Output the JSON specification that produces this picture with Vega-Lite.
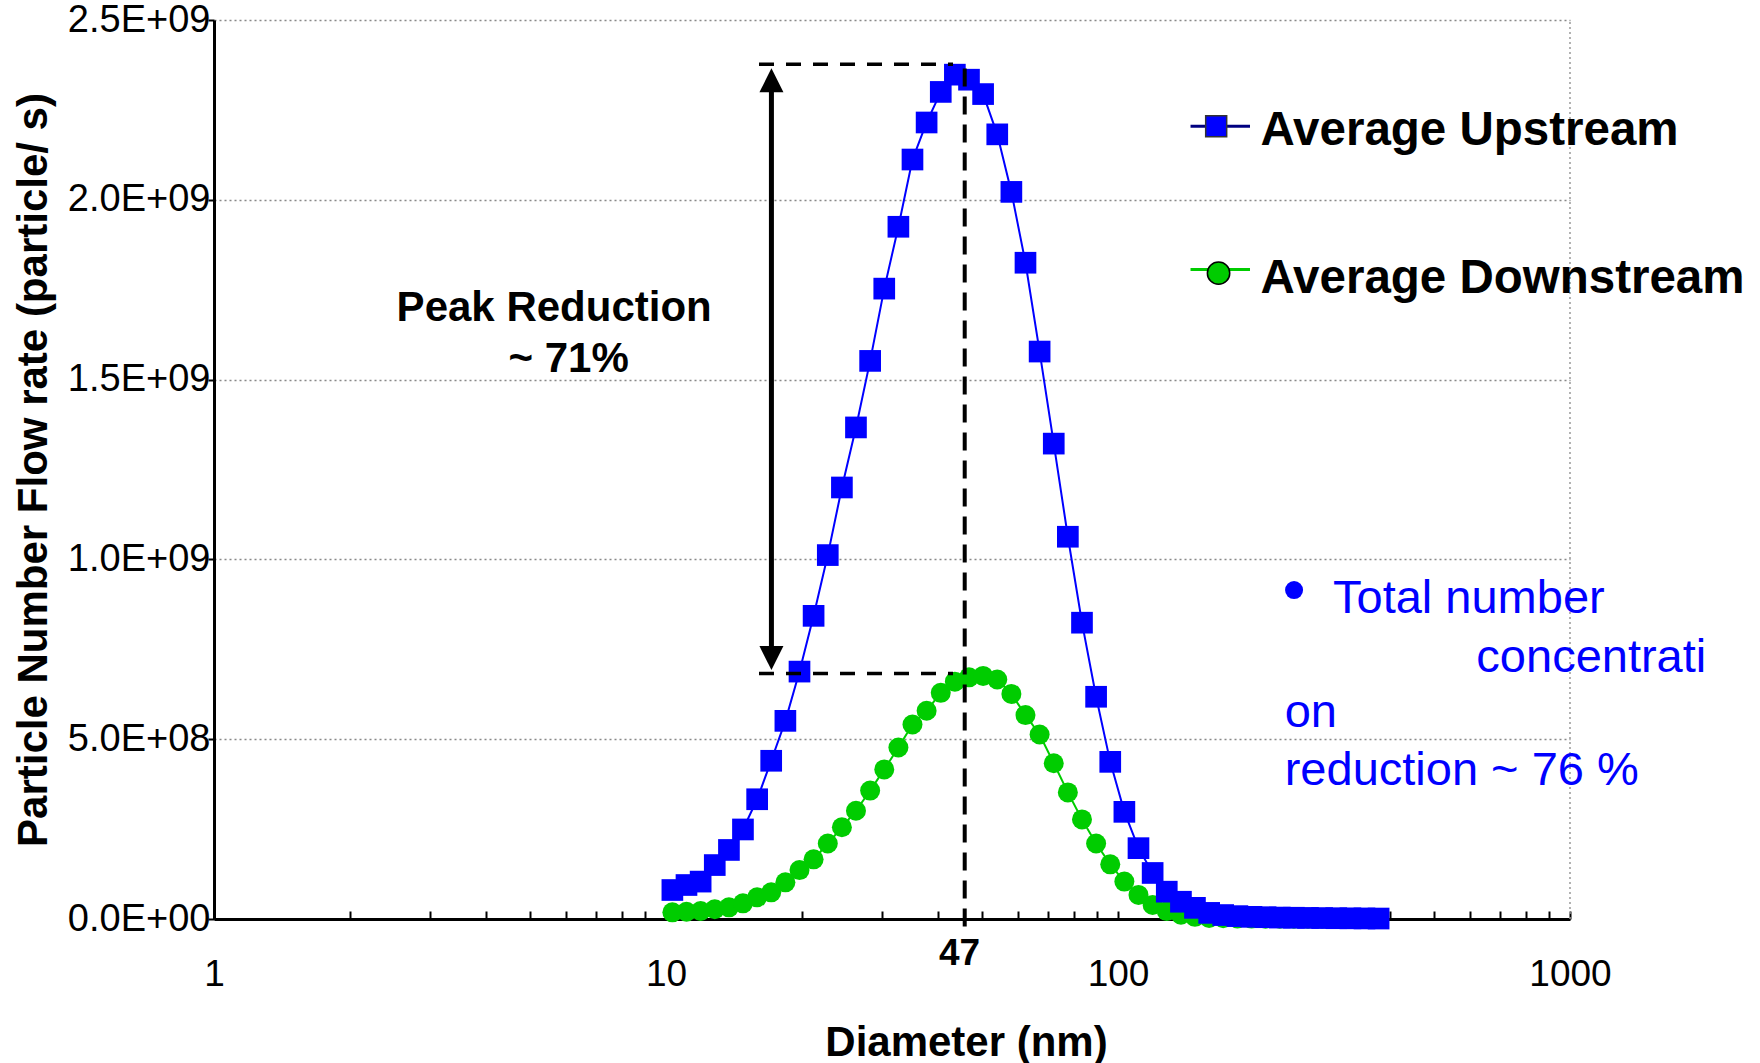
{
  "$schema": "https://vega.github.io/schema/vega-lite/v6.json",
  "width": 1356,
  "height": 899,
  "autosize": {"type": "none"},
  "padding": {"left": 214, "top": 20, "right": 190, "bottom": 144},
  "background": "white",
  "config": {"view": {"stroke": null}, "font": "Liberation Sans"},
  "datasets": {
    "psd": [
      {"d": 10.33, "up": 8.06e7, "down": 1.86e7},
      {"d": 11.10, "up": 9.45e7, "down": 2.03e7},
      {"d": 11.93, "up": 1.04e8, "down": 2.22e7},
      {"d": 12.82, "up": 1.50e8, "down": 2.70e7},
      {"d": 13.78, "up": 1.92e8, "down": 3.25e7},
      {"d": 14.80, "up": 2.49e8, "down": 4.36e7},
      {"d": 15.91, "up": 3.33e8, "down": 6.03e7},
      {"d": 17.09, "up": 4.40e8, "down": 7.42e7},
      {"d": 18.37, "up": 5.51e8, "down": 1.02e8},
      {"d": 19.74, "up": 6.88e8, "down": 1.36e8},
      {"d": 21.21, "up": 8.43e8, "down": 1.66e8},
      {"d": 22.80, "up": 1.012e9, "down": 2.10e8},
      {"d": 24.50, "up": 1.200e9, "down": 2.55e8},
      {"d": 26.32, "up": 1.367e9, "down": 3.01e8},
      {"d": 28.29, "up": 1.552e9, "down": 3.57e8},
      {"d": 30.40, "up": 1.753e9, "down": 4.16e8},
      {"d": 32.67, "up": 1.925e9, "down": 4.77e8},
      {"d": 35.10, "up": 2.112e9, "down": 5.41e8},
      {"d": 37.72, "up": 2.215e9, "down": 5.79e8},
      {"d": 40.54, "up": 2.300e9, "down": 6.29e8},
      {"d": 43.56, "up": 2.348e9, "down": 6.60e8},
      {"d": 46.81, "up": 2.334e9, "down": 6.72e8},
      {"d": 50.30, "up": 2.294e9, "down": 6.76e8},
      {"d": 54.06, "up": 2.182e9, "down": 6.66e8},
      {"d": 58.09, "up": 2.022e9, "down": 6.26e8},
      {"d": 62.42, "up": 1.825e9, "down": 5.67e8},
      {"d": 67.08, "up": 1.578e9, "down": 5.13e8},
      {"d": 72.09, "up": 1.322e9, "down": 4.33e8},
      {"d": 77.46, "up": 1.063e9, "down": 3.52e8},
      {"d": 83.24, "up": 8.24e8, "down": 2.77e8},
      {"d": 89.45, "up": 6.18e8, "down": 2.10e8},
      {"d": 96.13, "up": 4.37e8, "down": 1.52e8},
      {"d": 103.3, "up": 2.98e8, "down": 1.04e8},
      {"d": 111.0, "up": 1.97e8, "down": 6.7e7},
      {"d": 119.3, "up": 1.28e8, "down": 3.9e7},
      {"d": 128.2, "up": 7.6e7, "down": 2.2e7},
      {"d": 137.8, "up": 4.8e7, "down": 1.2e7},
      {"d": 148.0, "up": 3.1e7, "down": 6e6},
      {"d": 159.1, "up": 1.7e7, "down": 3e6},
      {"d": 170.9, "up": 1.1e7, "down": 2e6},
      {"d": 183.7, "up": 8.0e6, "down": 1.5e6},
      {"d": 197.4, "up": 6.0e6, "down": 1.2e6},
      {"d": 212.1, "up": 5.0e6, "down": 1.0e6},
      {"d": 228.0, "up": 4.0e6, "down": 9e5},
      {"d": 245.0, "up": 3.5e6, "down": 8e5},
      {"d": 263.2, "up": 3.0e6, "down": 7e5},
      {"d": 282.9, "up": 2.6e6, "down": 6e5},
      {"d": 304.0, "up": 2.2e6, "down": 5e5},
      {"d": 326.7, "up": 1.9e6, "down": 4e5},
      {"d": 351.0, "up": 1.6e6, "down": 3e5},
      {"d": 377.2, "up": 1.3e6, "down": 2e5}
    ]
  },
  "data": {"name": "psd"},
  "layer": [
    {
      "transform": [{"fold": ["down", "up"], "as": ["series", "value"]}],
      "mark": {"type": "line", "strokeWidth": 2},
      "encoding": {
        "x": {
          "field": "d", "type": "quantitative",
          "scale": {"type": "log", "domain": [1, 1000], "nice": false},
          "axis": {
            "title": "Diameter (nm)",
            "values": [1,2,3,4,5,6,7,8,9,10,20,30,40,50,60,70,80,90,100,200,300,400,500,600,700,800,900,1000],
            "labelExpr": "datum.value == 1 || datum.value == 10 || datum.value == 100 || datum.value == 1000 ? format(datum.value, 'd') : ''",
            "labelFont": "Liberation Sans", "labelFontSize": 37, "labelColor": "black",
            "labelPadding": 45, "labelOverlap": false, "labelFlush": false, "labelBound": false,
            "tickSize": -8, "tickWidth": 2, "tickColor": "black",
            "domainColor": "black", "domainWidth": 3,
            "grid": false,
            "titleFont": "Liberation Sans", "titleFontSize": 42, "titleFontWeight": "bold", "titleColor": "black",
            "titleX": 752, "titleY": 103
          }
        },
        "y": {
          "field": "value", "type": "quantitative",
          "scale": {"domain": [0, 2500000000], "nice": false},
          "axis": {
            "title": "Particle Number Flow rate (particle/ s)",
            "values": [0, 500000000, 1000000000, 1500000000, 2000000000, 2500000000],
            "labelExpr": "datum.value == 0 ? '0.0E+00' : datum.value == 500000000 ? '5.0E+08' : datum.value == 1000000000 ? '1.0E+09' : datum.value == 1500000000 ? '1.5E+09' : datum.value == 2000000000 ? '2.0E+09' : '2.5E+09'",
            "labelFont": "Liberation Sans", "labelFontSize": 38, "labelColor": "black",
            "labelPadding": -2, "tickSize": 6, "tickWidth": 2, "tickColor": "black",
            "domainColor": "black", "domainWidth": 3,
            "grid": true, "gridDash": [2, 3], "gridColor": "#888888", "gridWidth": 1.5,
            "titleFont": "Liberation Sans", "titleFontSize": 42, "titleFontWeight": "bold", "titleColor": "black",
            "titlePadding": 12
          }
        },
        "color": {
          "field": "series", "type": "nominal",
          "scale": {"domain": ["down", "up"], "range": ["#00CC00", "#0000FF"]},
          "legend": null
        }
      }
    },
    {
      "data": {"values": [{}]},
      "mark": {"type": "rule", "color": "#999999", "strokeDash": [2, 3], "strokeWidth": 1.5},
      "encoding": {"x": {"datum": 1000}, "y": {"datum": 0}, "y2": {"datum": 2500000000}}
    },
    {
      "mark": {"type": "point", "shape": "circle", "filled": true, "size": 400, "color": "#00CC00", "opacity": 1},
      "encoding": {"x": {"field": "d", "type": "quantitative"}, "y": {"field": "down", "type": "quantitative"}}
    },
    {
      "mark": {"type": "point", "shape": "square", "filled": true, "size": 470, "color": "#0000FF", "opacity": 1},
      "encoding": {"x": {"field": "d", "type": "quantitative"}, "y": {"field": "up", "type": "quantitative"}}
    },
    {
      "data": {"values": [{}]},
      "mark": {"type": "rule", "color": "black", "strokeDash": [15, 12], "strokeWidth": 3.5},
      "encoding": {"x": {"datum": 16.06}, "x2": {"datum": 43.15}, "y": {"datum": 2377000000}}
    },
    {
      "data": {"values": [{}]},
      "mark": {"type": "rule", "color": "black", "strokeDash": [15, 12], "strokeWidth": 3.5},
      "encoding": {"x": {"datum": 16.06}, "x2": {"datum": 43.15}, "y": {"datum": 683000000}}
    },
    {
      "data": {"values": [{}]},
      "mark": {"type": "rule", "color": "black", "strokeDash": [18, 10], "strokeWidth": 4},
      "encoding": {"x": {"datum": 45.8}, "y": {"datum": -21000000}, "y2": {"datum": 2371000000}}
    },
    {
      "data": {"values": [{}]},
      "mark": {"type": "rule", "color": "black", "strokeWidth": 5},
      "encoding": {"x": {"datum": 17.11}, "y": {"datum": 740000000}, "y2": {"datum": 2320000000}}
    },
    {
      "data": {"values": [{}]},
      "mark": {"type": "point", "shape": "M0,-1L-1,1L1,1Z", "filled": true, "size": 576, "color": "black", "opacity": 1},
      "encoding": {"x": {"datum": 17.11}, "y": {"datum": 2332400000}}
    },
    {
      "data": {"values": [{}]},
      "mark": {"type": "point", "shape": "M0,1L-1,-1L1,-1Z", "filled": true, "size": 576, "color": "black", "opacity": 1},
      "encoding": {"x": {"datum": 17.11}, "y": {"datum": 725600000}}
    },
    {
      "data": {"values": [{}]},
      "mark": {"type": "text", "text": "Peak Reduction", "font": "Liberation Sans", "fontSize": 42, "fontWeight": "bold", "color": "black", "align": "center", "baseline": "middle"},
      "encoding": {"x": {"datum": 5.657}, "y": {"datum": 1700000000}}
    },
    {
      "data": {"values": [{}]},
      "mark": {"type": "text", "text": "~ 71%", "font": "Liberation Sans", "fontSize": 42, "fontWeight": "bold", "color": "black", "align": "center", "baseline": "middle"},
      "encoding": {"x": {"datum": 6.09}, "y": {"datum": 1556000000}}
    },
    {
      "data": {"values": [{}]},
      "mark": {"type": "text", "text": "47", "font": "Liberation Sans", "fontSize": 37, "fontWeight": "bold", "color": "black", "align": "center", "baseline": "middle"},
      "encoding": {"x": {"datum": 44.6}, "y": {"datum": -97300000}}
    },
    {
      "data": {"values": [{}]},
      "mark": {"type": "point", "shape": "circle", "filled": true, "size": 324, "color": "#0000FF", "opacity": 1},
      "encoding": {"x": {"datum": 245.2}, "y": {"datum": 914700000}}
    },
    {
      "data": {"values": [{}]},
      "mark": {"type": "text", "text": "Total number", "font": "Liberation Sans", "fontSize": 47, "color": "#0000FF", "align": "left", "baseline": "alphabetic"},
      "encoding": {"x": {"datum": 299.0}, "y": {"datum": 849900000}}
    },
    {
      "data": {"values": [{}]},
      "mark": {"type": "text", "text": "concentrati", "font": "Liberation Sans", "fontSize": 47, "color": "#0000FF", "align": "left", "baseline": "alphabetic"},
      "encoding": {"x": {"datum": 620.6}, "y": {"datum": 687500000}}
    },
    {
      "data": {"values": [{}]},
      "mark": {"type": "text", "text": "on", "font": "Liberation Sans", "fontSize": 47, "color": "#0000FF", "align": "left", "baseline": "alphabetic"},
      "encoding": {"x": {"datum": 233.8}, "y": {"datum": 534600000}}
    },
    {
      "data": {"values": [{}]},
      "mark": {"type": "text", "text": "reduction ~ 76 %", "font": "Liberation Sans", "fontSize": 47, "color": "#0000FF", "align": "left", "baseline": "alphabetic"},
      "encoding": {"x": {"datum": 233.8}, "y": {"datum": 372500000}}
    },
    {
      "data": {"values": [{}]},
      "mark": {"type": "rule", "color": "#000080", "strokeWidth": 3},
      "encoding": {"x": {"datum": 144.7}, "x2": {"datum": 195.9}, "y": {"datum": 2204500000}}
    },
    {
      "data": {"values": [{}]},
      "mark": {"type": "point", "shape": "square", "filled": true, "size": 441, "fill": "#0000FF", "stroke": "#333333", "strokeWidth": 1.5, "opacity": 1},
      "encoding": {"x": {"datum": 164.9}, "y": {"datum": 2204500000}}
    },
    {
      "data": {"values": [{}]},
      "mark": {"type": "text", "text": "Average Upstream", "font": "Liberation Sans", "fontSize": 47.5, "fontWeight": "bold", "color": "black", "align": "left", "baseline": "alphabetic"},
      "encoding": {"x": {"datum": 206.7}, "y": {"datum": 2151800000}}
    },
    {
      "data": {"values": [{}]},
      "mark": {"type": "rule", "color": "#00CC00", "strokeWidth": 3},
      "encoding": {"x": {"datum": 144.7}, "x2": {"datum": 195.9}, "y": {"datum": 1806200000}}
    },
    {
      "data": {"values": [{}]},
      "mark": {"type": "point", "shape": "circle", "filled": true, "size": 500, "fill": "#00CC00", "stroke": "black", "strokeWidth": 1.5, "opacity": 1},
      "encoding": {"x": {"datum": 166.9}, "y": {"datum": 1796000000}}
    },
    {
      "data": {"values": [{}]},
      "mark": {"type": "text", "text": "Average Downstream", "font": "Liberation Sans", "fontSize": 47.5, "fontWeight": "bold", "color": "black", "align": "left", "baseline": "alphabetic"},
      "encoding": {"x": {"datum": 206.7}, "y": {"datum": 1739500000}}
    }
  ]
}
